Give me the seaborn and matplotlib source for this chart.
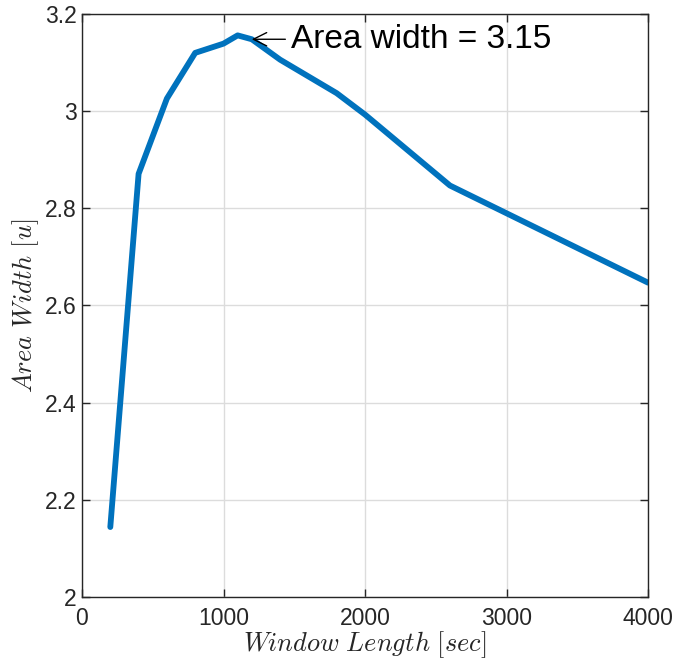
import matplotlib
matplotlib.use("Agg")
import matplotlib.pyplot as plt
import seaborn as sns
import pandas as pd

window_length = [200, 400, 600, 800, 1000, 1100, 1200, 1400, 1800, 2000, 2600, 4000]
area_width = [2.144, 2.871, 3.026, 3.120, 3.139, 3.156, 3.148, 3.106, 3.037, 2.993, 2.847, 2.647]
x_ticks = [0, 1000, 2000, 3000, 4000]
y_ticks = [2, 2.2, 2.4, 2.6, 2.8, 3, 3.2]
y_tick_labels = ["2", "2.2", "2.4", "2.6", "2.8", "3", "3.2"]

sns.set_theme(style="white")
plt.rcParams["font.family"] = ["Liberation Sans", "DejaVu Sans"]
plt.rcParams["mathtext.fontset"] = "cm"

df = pd.DataFrame({"x": window_length, "y": area_width})

fig = plt.figure(figsize=(6.91, 6.62), dpi=100)
ax = fig.add_axes([82 / 691, 65 / 662, 566 / 691, 583 / 662])
sns.lineplot(data=df, x="x", y="y", ax=ax, color="#0072BD", linewidth=4.2, sort=False)

ax.set_xlim(0, 4000)
ax.set_ylim(2, 3.2)
ax.set_xticks(x_ticks)
ax.set_xticklabels([str(t) for t in x_ticks])
ax.set_yticks(y_ticks)
ax.set_yticklabels(y_tick_labels)
ax.grid(True, color="#dcdcdc", linewidth=1.0)
ax.tick_params(axis="both", direction="in", length=6, width=1.0, labelsize=16.5,
               colors="#262626", top=True, right=True, bottom=True, left=True,
               labelcolor="#262626")
ax.tick_params(axis="x", pad=7)
ax.tick_params(axis="y", pad=4)
for s in ax.spines.values():
    s.set_color("#262626")
    s.set_linewidth(1.0)

ax.set_xlabel(r"$Window\ Length\ [sec]$", fontsize=19, color="#262626", labelpad=0)
ax.set_ylabel(r"$Area\ Width\ [u]$", fontsize=19, color="#262626", labelpad=3)

ax.annotate("Area width = 3.15", xy=(1200, 3.148), xytext=(1480, 3.148),
            fontsize=24, color="black", va="center", ha="left",
            arrowprops=dict(arrowstyle="->", color="black", lw=1.0,
                            shrinkA=2, shrinkB=0))

fig.savefig("out.png", dpi=100)
